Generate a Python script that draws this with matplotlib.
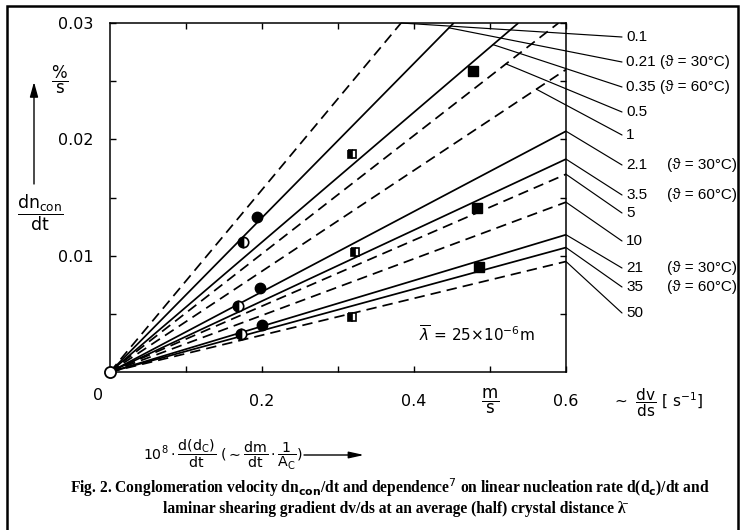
import matplotlib
matplotlib.use("Agg")
import matplotlib.pyplot as plt
import numpy as np
from matplotlib.patches import Rectangle

plt.rcParams['font.family'] = ['DejaVu Sans']
plt.rcParams['mathtext.fontset'] = 'dejavusans'

# lines through the origin: label, temperature note, value reached at x = 0.6, dashed?
line_labels = ['0.1', '0.21', '0.35', '0.5', '1', '2.1', '3.5', '5', '10', '21', '35', '50']
line_temps = ['', '(ϑ = 30°C)', '(ϑ = 60°C)', '', '', '(ϑ = 30°C)', '(ϑ = 60°C)', '', '',
              '(ϑ = 30°C)', '(ϑ = 60°C)', '']
line_end = [0.0470, 0.0398, 0.0335, 0.0305, 0.0260, 0.0207, 0.0183, 0.0170, 0.0146,
            0.0118, 0.0107, 0.0095]
line_dashed = [True, False, False, True, True, False, False, True, True, False, False, True]

# measured points
full_circle_x = [0.194, 0.198, 0.2005]
full_circle_y = [0.01336, 0.00724, 0.00405]
half_circle_x = [0.1755, 0.169, 0.173]
half_circle_y = [0.0112, 0.00569, 0.00328]
full_square_x = [0.4776, 0.483, 0.4855]
full_square_y = [0.02586, 0.01414, 0.00905]
half_square_x = [0.319, 0.322, 0.319]
half_square_y = [0.01871, 0.01034, 0.00474]

W, H = 740, 530
fig = plt.figure(figsize=(W / 100, H / 100), dpi=100)


def fx(x):
    return x / W


def fy(y):
    return 1 - y / H


label_font = ['Liberation Sans', 'DejaVu Sans']

ax = fig.add_axes([fx(110), fy(372), fx(566) - fx(110), fy(23) - fy(372)])
ax.set_xlim(0, 0.6)
ax.set_ylim(0, 0.03)

# leader start points on the lines (x in data units) and label rows (pixels from top)
leader_x = [None, 0.446, 0.504, 0.521, 0.561, 0.6, 0.6, 0.6, 0.6, 0.6, 0.6, 0.6]
label_rows = [37, 62, 87, 112, 135, 165, 195, 213, 241, 268, 287, 313]

for i, lab in enumerate(line_labels):
    k = line_end[i] / 0.6
    x_end = min(0.6, 0.03 / k)
    ls = (0, (6, 3.5)) if line_dashed[i] else '-'
    ax.plot([0, x_end], [0, k * x_end], color='black', lw=1.25, linestyle=ls,
            solid_capstyle='butt', dash_capstyle='butt', zorder=2)

    xa = leader_x[i] if leader_x[i] is not None else x_end
    ya = min(k * xa, 0.03)
    ax.annotate('', xy=(xa, ya), xycoords='data',
                xytext=(622, H - label_rows[i]), textcoords='figure pixels',
                arrowprops=dict(arrowstyle='-', lw=0.85, color='black',
                                shrinkA=0, shrinkB=0), annotation_clip=False)
    if lab in ('0.21', '0.35'):
        fig.text(fx(626), fy(label_rows[i]), lab + ' ' + line_temps[i], fontsize=11,
                 ha='left', va='center', family=label_font)
    else:
        fig.text(fx(626), fy(label_rows[i]), lab, fontsize=11, ha='left', va='center',
                 family=label_font)
        if line_temps[i]:
            fig.text(fx(667), fy(label_rows[i]), line_temps[i], fontsize=11,
                     ha='left', va='center', family=label_font)

ax.plot(full_circle_x, full_circle_y, 'o', color='black', ms=7.5, zorder=4)
ax.plot(half_circle_x, half_circle_y, 'o', color='black', ms=7.5, fillstyle='left',
        markerfacecoloralt='white', mew=1.2, zorder=4)
ax.plot(full_square_x, full_square_y, 's', color='black', ms=6.5, zorder=4)
ax.plot(half_square_x, half_square_y, 's', color='black', ms=5.5, fillstyle='left',
        markerfacecoloralt='white', mew=1.2, zorder=4)
ax.plot([0], [0], 'o', ms=8, mfc='white', mec='black', mew=1.3, clip_on=False, zorder=5)

ax.set_xticks([0.2, 0.4, 0.6])
ax.set_xticklabels(['0.2', '0.4', '0.6'])
ax.set_xticks([0.1, 0.3, 0.5], minor=True)
ax.set_yticks([0.01, 0.02, 0.03])
ax.set_yticklabels(['0.01', '0.02', '0.03'])
ax.set_yticks([0.005, 0.015, 0.025], minor=True)
ax.tick_params(which='both', direction='in', length=4, width=1, top=True, right=True,
               labelsize=11.5)
ax.tick_params(axis='x', which='major', pad=16)
ax.tick_params(axis='y', which='major', pad=12)
for s in ax.spines.values():
    s.set_linewidth(1.1)

fig.text(fx(98), fy(395), '0', fontsize=11.5, ha='center', va='center')
fig.text(fx(490), fy(401), r'$\dfrac{\mathrm{m}}{\mathrm{s}}$', fontsize=12, ha='center', va='center')
fig.text(fx(612), fy(403), r'$\sim\ \dfrac{\mathrm{dv}}{\mathrm{ds}}\ [\ \mathrm{s}^{-1}]$',
         fontsize=11, ha='left', va='center')
fig.text(fx(477), fy(335), r'$\overline{\lambda}$ = 25×10$^{-6}$m', fontsize=11,
         ha='center', va='center')

# y-axis label with arrow
fig.text(fx(60), fy(80), r'$\dfrac{\%}{\mathrm{s}}$', fontsize=12, ha='center', va='center')
fig.text(fx(40), fy(213), r'$\dfrac{\mathrm{dn_{con}}}{\mathrm{dt}}$', fontsize=12.5,
         ha='center', va='center')
ax.annotate('', xy=(34, H - 82), xycoords='figure pixels', xytext=(34, H - 184),
            textcoords='figure pixels',
            arrowprops=dict(arrowstyle='-|>,head_length=0.9,head_width=0.25', lw=1,
                            color='black', shrinkA=0, shrinkB=0), annotation_clip=False)

# x-axis label with arrow
fig.text(fx(303), fy(455),
         r'$10^8 \cdot \dfrac{\mathrm{d(d_C)}}{\mathrm{dt}}\ (\sim \dfrac{\mathrm{dm}}{\mathrm{dt}}'
         r' \cdot \dfrac{1}{\mathrm{A_C}})$', fontsize=10.2, ha='right', va='center')
ax.annotate('', xy=(364, H - 455), xycoords='figure pixels', xytext=(304, H - 455),
            textcoords='figure pixels',
            arrowprops=dict(arrowstyle='-|>,head_length=0.9,head_width=0.2', lw=1,
                            color='black', shrinkA=0, shrinkB=0), annotation_clip=False)

# caption
fig.text(fx(390), fy(488),
         r'Fig. 2. Conglomeration velocity dn$_{\mathbf{con}}$/dt and dependence$^7$ on linear '
         r'nucleation rate d(d$_\mathbf{c}$)/dt and',
         fontsize=11.2, ha='center', va='center', family='Liberation Serif', weight='bold')
fig.text(fx(394), fy(509),
         'laminar shearing gradient dv/ds at an average (half) crystal distance λ̄',
         fontsize=11.2, ha='center', va='center', family='Liberation Serif', weight='bold')

# outer frame of the scanned page
fig.patches.append(Rectangle((fx(7), -0.05), fx(738) - fx(7), fy(6) + 0.05,
                             transform=fig.transFigure, fill=False, lw=1.8,
                             edgecolor='black'))

fig.savefig('out.png', dpi=100)
